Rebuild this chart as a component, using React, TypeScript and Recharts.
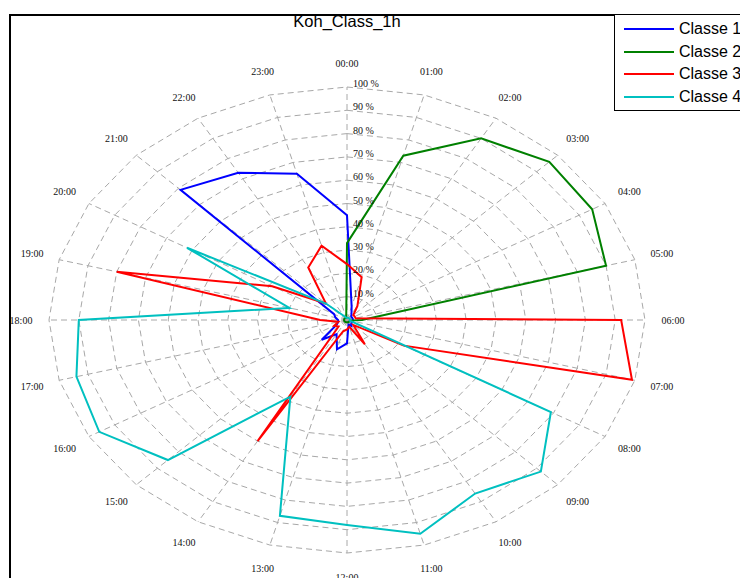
import React from "react";
import { RadarChart, Radar, PolarGrid, PolarAngleAxis, PolarRadiusAxis } from "recharts";

const HOURS = [
  "00:00", "01:00", "02:00", "03:00", "04:00", "05:00", "06:00", "07:00",
  "08:00", "09:00", "10:00", "11:00", "12:00", "13:00", "14:00", "15:00",
  "16:00", "17:00", "18:00", "19:00", "20:00", "21:00", "22:00", "23:00",
];
const CLASSE_1 = [45, 6, 3, 2, 2, 2, 2, 2, 2, 2, 3, 2, 10, 13, 7, 12, 4, 3, 3, 4, 5, 79, 73, 65];
const CLASSE_2 = [33, 73, 90, 96, 95, 90, 5, 1, 1, 1, 1, 1, 1, 1, 1, 1, 1, 1, 1, 1, 1, 1, 1, 1];
const CLASSE_3 = [24, 19, 7, 3, 3, 3, 92, 99, 22, 3, 12, 3, 4, 5, 60, 4, 5, 3, 9, 80, 29, 10, 26, 33];
const CLASSE_4 = [1, 1, 1, 1, 1, 1, 1, 1, 79, 92, 86, 95, 88, 87, 38, 85, 96, 94, 90, 20, 62, 10, 2, 1];
const RADIUS_TICKS = [0, 10, 20, 30, 40, 50, 60, 70, 80, 90, 100];

const SERIES = [
  { key: "c1", name: "Classe 1", color: "#0000ff" },
  { key: "c2", name: "Classe 2", color: "#008000" },
  { key: "c3", name: "Classe 3", color: "#ff0000" },
  { key: "c4", name: "Classe 4", color: "#00c0c0" },
];

const data = HOURS.map((h, i) => ({
  hour: h,
  c1: CLASSE_1[i],
  c2: CLASSE_2[i],
  c3: CLASSE_3[i],
  c4: CLASSE_4[i],
}));

// chart is an ellipse in the original: circle of radius R, stretched sideways
const CX = 347;
const CY = 320;
const R = 233;
const KX = 298 / 233;
const sx = (x: number) => CX + (x - CX) * KX;

const serif = "'Liberation Serif', 'DejaVu Serif', serif";
const sans = "'Liberation Sans', Arial, sans-serif";

const makeShape = (color: string) => (props: any) => {
  const pts = props.points || [];
  if (!pts.length) return <g />;
  const d = pts.map((p: any, i: number) => `${i ? "L" : "M"}${sx(p.x)},${p.y}`).join("") + "Z";
  return <path d={d} fill="none" stroke={color} strokeWidth={2} strokeLinejoin="miter" />;
};

const AngleTick = (props: any) => {
  const { x, y, payload } = props;
  const dx = x - CX;
  const dy = y - CY;
  const len = Math.hypot(dx, dy) || 1;
  const tx = CX + (dx / len) * 326;
  const ty = CY + (dy / len) * 257;
  return (
    <text x={tx} y={ty} textAnchor="middle" dominantBaseline="central"
      fontSize={10} fontFamily={serif} fill="#111">
      {payload.value}
    </text>
  );
};

const RadiusTick = (props: any) => {
  const { x, y, payload } = props;
  if (payload.value === 0) return <g />;
  return (
    <text x={x + 6} y={y} textAnchor="start" fontSize={10} fontFamily={serif} fill="#111">
      {`${payload.value} %`}
    </text>
  );
};

export default function App() {
  return (
    <div style={{ position: "absolute", left: 0, top: 0, width: 740, height: 578, overflow: "hidden", background: "#fff" }}>
      <style>{`
        .recharts-polar-grid { transform: matrix(${KX}, 0, 0, 1, ${-CX * (KX - 1)}, 0); }
        .recharts-polar-grid line, .recharts-polar-grid path, .recharts-polar-grid polygon { vector-effect: non-scaling-stroke; }
      `}</style>
      <div style={{ position: "absolute", left: 9, top: 14, width: 740, height: 600, borderTop: "2px solid #000", borderLeft: "2px solid #000" }} />
      <div style={{ position: "absolute", left: CX, top: 12, transform: "translateX(-50%)", fontFamily: sans, fontSize: 16.5, whiteSpace: "nowrap" }}>
        Koh_Class_1h
      </div>
      <div style={{ position: "absolute", left: 0, top: 0 }}>
        <RadarChart width={740} height={578} cx={CX} cy={CY} outerRadius={R} data={data}
          margin={{ top: 0, right: 0, bottom: 0, left: 0 }}>
          <PolarGrid gridType="polygon" stroke="#a8a8a8" strokeDasharray="6 4" />
          <PolarAngleAxis dataKey="hour" tick={<AngleTick />} tickLine={false} axisLine={false} />
          <PolarRadiusAxis angle={90} domain={[0, 100]} ticks={RADIUS_TICKS as any} tickCount={11}
            axisLine={false} tickLine={false} tick={<RadiusTick />} />
          {SERIES.map((s) => (
            <Radar key={s.key} name={s.name} dataKey={s.key} stroke={s.color} fill="none"
              shape={makeShape(s.color)} isAnimationActive={false} />
          ))}
        </RadarChart>
      </div>
      <div style={{ position: "absolute", left: 614, top: 15, width: 140, height: 95, borderLeft: "1px solid #000", borderBottom: "1px solid #000", background: "#fff" }}>
        {SERIES.map((s, i) => (
          <div key={s.key} style={{ position: "absolute", left: 0, top: 3 + i * 22.7, height: 22, display: "flex", alignItems: "center" }}>
            <div style={{ marginLeft: 9, width: 50, height: 2, background: s.color }} />
            <span style={{ marginLeft: 5, fontFamily: sans, fontSize: 16, whiteSpace: "nowrap" }}>{s.name}</span>
          </div>
        ))}
      </div>
    </div>
  );
}
